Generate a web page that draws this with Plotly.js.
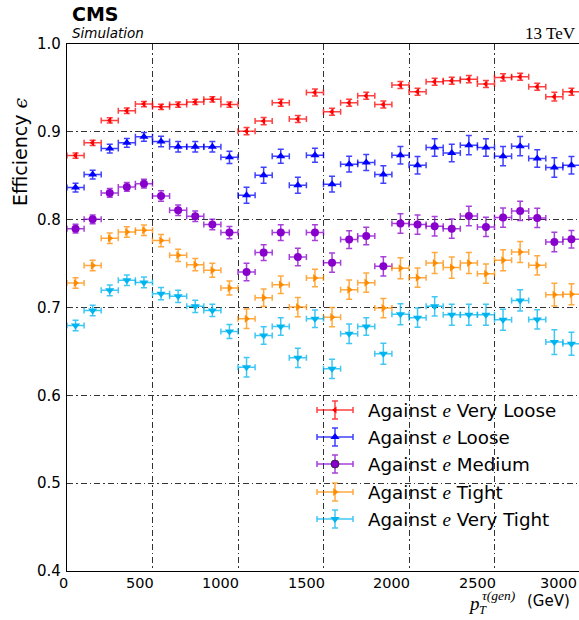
<!DOCTYPE html>
<html>
<head>
<meta charset="utf-8">
<script src="https://cdn.plot.ly/plotly-3.0.1.min.js"></script>
<style>
  html, body { margin: 0; padding: 0; overflow: hidden; background: #fff; }
  #chart { width: 582px; height: 620px; }
</style>
</head>
<body>
<div id="chart"></div>
<script>
// Generated-tau pT bins (GeV): centres and half-width
const binCenters = [50, 150, 250, 350, 450, 550, 650, 750, 850, 950,
  1050, 1150, 1250, 1350, 1450, 1550, 1650, 1750, 1850, 1950,
  2050, 2150, 2250, 2350, 2450, 2550, 2650, 2750, 2850, 2950];
const binHalfWidth = 50;

// Efficiency per working point of the anti-electron discriminator
const effVeryLoose = [0.873, 0.8875, 0.913, 0.924, 0.9316, 0.9285, 0.931, 0.934, 0.937, 0.931,
  0.9008, 0.9122, 0.9331, 0.9145, 0.9449, 0.9228, 0.933, 0.941, 0.931, 0.9532,
  0.9456, 0.957, 0.9582, 0.960, 0.9544, 0.962, 0.9627, 0.9513, 0.940, 0.9456];
const effLoose = [0.8366, 0.8514, 0.881, 0.8875, 0.8943, 0.889, 0.883, 0.883, 0.883, 0.871,
  0.8278, 0.8506, 0.8723, 0.8392, 0.8734, 0.8404, 0.8632, 0.8651, 0.8514, 0.8734,
  0.862, 0.8822, 0.876, 0.8848, 0.8822, 0.8723, 0.8837, 0.8696, 0.8594, 0.862];
const effMedium = [0.7898, 0.8004, 0.8305, 0.8373, 0.841, 0.827, 0.8107, 0.8039, 0.7944, 0.7853,
  0.7404, 0.7625, 0.7853, 0.7575, 0.7853, 0.751, 0.7773, 0.7814, 0.7469, 0.7956,
  0.7944, 0.7925, 0.7898, 0.8042, 0.7917, 0.8024, 0.81, 0.802, 0.7746, 0.7777];
const effTight = [0.7278, 0.7477, 0.7788, 0.786, 0.788, 0.7762, 0.7594, 0.7488, 0.7423, 0.7221,
  0.6872, 0.7111, 0.726, 0.7005, 0.7335, 0.689, 0.7203, 0.7283, 0.6993, 0.7446,
  0.734, 0.7506, 0.7454, 0.7506, 0.7385, 0.7537, 0.7632, 0.748, 0.7146, 0.715];
const effVeryTight = [0.6796, 0.6967, 0.7195, 0.731, 0.7286, 0.7157, 0.7127, 0.7013, 0.6967, 0.6727,
  0.632, 0.6682, 0.6784, 0.6427, 0.6872, 0.6302, 0.6701, 0.6784, 0.6473, 0.6924,
  0.6884, 0.7013, 0.6918, 0.6918, 0.6918, 0.686, 0.7081, 0.6864, 0.6606, 0.6587];

// Statistical uncertainties
const errVeryLoose = [0.003, 0.003, 0.003, 0.003, 0.003, 0.003, 0.003, 0.003, 0.003, 0.003,
  0.004, 0.004, 0.004, 0.004, 0.004, 0.004, 0.004, 0.004, 0.004, 0.004,
  0.004, 0.004, 0.004, 0.004, 0.004, 0.004, 0.004, 0.004, 0.005, 0.004];
const errLoose = [0.005, 0.005, 0.005, 0.005, 0.005, 0.006, 0.006, 0.006, 0.006, 0.007,
  0.009, 0.009, 0.008, 0.009, 0.008, 0.009, 0.009, 0.009, 0.010, 0.010,
  0.010, 0.010, 0.010, 0.011, 0.010, 0.011, 0.011, 0.010, 0.011, 0.010];
const errMedium = [0.005, 0.005, 0.005, 0.005, 0.005, 0.006, 0.006, 0.006, 0.006, 0.007,
  0.010, 0.009, 0.009, 0.010, 0.009, 0.011, 0.010, 0.010, 0.011, 0.011,
  0.011, 0.011, 0.011, 0.011, 0.011, 0.011, 0.011, 0.011, 0.011, 0.010];
const errTight = [0.006, 0.006, 0.006, 0.006, 0.006, 0.007, 0.007, 0.007, 0.008, 0.008,
  0.011, 0.010, 0.010, 0.011, 0.010, 0.011, 0.011, 0.011, 0.011, 0.012,
  0.011, 0.012, 0.012, 0.012, 0.011, 0.012, 0.012, 0.011, 0.013, 0.012];
const errVeryTight = [0.006, 0.006, 0.006, 0.006, 0.006, 0.007, 0.007, 0.007, 0.007, 0.008,
  0.011, 0.010, 0.010, 0.011, 0.010, 0.011, 0.011, 0.010, 0.012, 0.012,
  0.011, 0.011, 0.012, 0.012, 0.012, 0.012, 0.012, 0.011, 0.014, 0.013];

const seriesNames = ["Very Loose", "Loose", "Medium", "Tight", "Very Tight"];
const xTickVals = [0, 500, 1000, 1500, 2000, 2500, 3000];
const xTickText = ["0", "500", "1000", "1500", "2000", "2500", "3000"];
const yTickVals = [0.4, 0.5, 0.6, 0.7, 0.8, 0.9, 1.0];

// Styling
const styles = [
  {color: "#ff0000", err: "rgba(255,0,0,0.75)", symbol: "triangle-left", size: 6},
  {color: "#0000ff", err: "rgba(0,0,255,0.75)", symbol: "triangle-up", size: 8},
  {color: "#8800cc", err: "rgba(136,0,204,0.75)", symbol: "circle", size: 8},
  {color: "#ff8c00", err: "rgba(255,140,0,0.75)", symbol: "triangle-right", size: 7},
  {color: "#00b4f0", err: "rgba(0,180,240,0.75)", symbol: "triangle-down", size: 8}
];
const effs = [effVeryLoose, effLoose, effMedium, effTight, effVeryTight];
const errs = [errVeryLoose, errLoose, errMedium, errTight, errVeryTight];

// Plot-area pixel geometry (used for the hand-built legend and text)
const W = 582, H = 620;
const M = {l: 67, r: 2, t: 44, b: 49};
const plotL = M.l, plotR = W - M.r, plotT = M.t, plotB = H - M.b;
const pxX = px => (px - plotL) / (plotR - plotL);
const pxY = py => (plotB - py) / (plotB - plotT);

const traces = [];
effs.forEach((vals, i) => {
  const s = styles[i];
  traces.push({
    type: "scatter", mode: "markers",
    x: binCenters, y: vals,
    marker: {symbol: s.symbol, size: s.size, color: s.color, line: {width: 0}},
    error_y: {type: "data", array: errs[i], visible: true, color: s.err, thickness: 1.5, width: 3},
    error_x: {type: "constant", value: binHalfWidth, visible: true, color: s.err, thickness: 1.5, width: 3},
    showlegend: false, hoverinfo: "skip", cliponaxis: false
  });
});

// Legend: error-bar glyphs on a pixel-space overlay axis
const legendRowY = [410, 437, 464, 492, 519];
const legendGlyphX = 335;
styles.forEach((s, i) => {
  traces.push({
    type: "scatter", mode: "markers", xaxis: "x2", yaxis: "y2",
    x: [legendGlyphX], y: [legendRowY[i]],
    marker: {symbol: s.symbol, size: s.size, color: s.color,
             line: {width: i === 2 ? 0.8 : 0, color: "#222"}},
    error_x: {type: "constant", value: 18, color: s.err, thickness: 1.5, width: 3},
    error_y: {type: "constant", value: 9, color: s.err, thickness: 1.5, width: 3},
    showlegend: false, hoverinfo: "skip"
  });
});

const eSpan = '<span style="font-family:\'Liberation Serif\';font-style:italic;font-size:19px;">e</span>';
const annotations = [];
seriesNames.forEach((n, i) => {
  annotations.push({
    xref: "paper", yref: "paper", x: pxX(367), y: pxY(legendRowY[i]),
    xanchor: "left", yanchor: "middle", showarrow: false, borderpad: 0,
    text: "Against " + eSpan + " " + n,
    font: {family: "DejaVu Sans", size: 18.3, color: "#000"}
  });
});

// x tick labels, right-aligned on their ticks (last one kept inside the page)
xTickVals.forEach((v, i) => {
  annotations.push({
    xref: "x", yref: "paper", x: v, y: 0, yshift: -3,
    xanchor: "right", yanchor: "top", xshift: i === xTickVals.length - 1 ? -2 : 2,
    showarrow: false, borderpad: 0,
    text: xTickText[i], font: {family: "DejaVu Sans", size: 14.5, color: "#000"}
  });
});

// Header texts
annotations.push(
  {xref: "paper", yref: "paper", x: pxX(70), y: pxY(13.5), xanchor: "left", yanchor: "middle",
   showarrow: false, text: "<b>CMS</b>", font: {family: "DejaVu Sans", size: 19, color: "#000"}},
  {xref: "paper", yref: "paper", x: pxX(70), y: pxY(33), xanchor: "left", yanchor: "middle",
   showarrow: false, text: "<i>Simulation</i>", font: {family: "DejaVu Sans", size: 13.5, color: "#000"}},
  {xref: "paper", yref: "paper", x: pxX(578), y: pxY(33), xanchor: "right", yanchor: "middle",
   showarrow: false, text: "13 TeV", font: {family: "Liberation Serif", size: 17, color: "#000"}},
  // y-axis title, placed toward the top of the axis
  {xref: "paper", yref: "paper", x: pxX(20), y: pxY(152), xanchor: "center", yanchor: "middle",
   textangle: -90, showarrow: false,
   text: 'Efficiency <span style="font-family:\'DejaVu Serif\';font-style:italic;">ϵ</span>',
   font: {family: "DejaVu Sans", size: 19, color: "#000"}},
  // x-axis title pieces: p_T^{τ(gen)} (GeV)
  {xref: "paper", yref: "paper", x: pxX(467), y: pxY(603), xanchor: "left", yanchor: "middle",
   showarrow: false, borderpad: 0, text: "<i>p</i>", font: {family: "Liberation Serif", size: 19, color: "#000"}},
  {xref: "paper", yref: "paper", x: pxX(478), y: pxY(609.5), xanchor: "left", yanchor: "middle",
   showarrow: false, borderpad: 0, text: "<i>T</i>", font: {family: "Liberation Serif", size: 12.5, color: "#000"}},
  {xref: "paper", yref: "paper", x: pxX(481), y: pxY(595.5), xanchor: "left", yanchor: "middle",
   showarrow: false, borderpad: 0, text: "<i>τ(gen)</i>", font: {family: "Liberation Serif", size: 13.5, color: "#000"}},
  {xref: "paper", yref: "paper", x: pxX(526), y: pxY(601), xanchor: "left", yanchor: "middle",
   showarrow: false, borderpad: 0, text: "(GeV)", font: {family: "DejaVu Sans", size: 15, color: "#000"}}
);

const grid = {gridcolor: "#333", gridwidth: 1, griddash: "6px,3px,1.5px,3px"};

const layout = {
  width: W, height: H,
  margin: M,
  paper_bgcolor: "#fff", plot_bgcolor: "#fff",
  showlegend: false,
  xaxis: Object.assign({
    range: [0, 3000], tickmode: "array", tickvals: xTickVals, showticklabels: false,
    showgrid: true, zeroline: false, showline: true, linecolor: "#000", linewidth: 1.2,
    mirror: true, ticks: ""
  }, grid),
  yaxis: Object.assign({
    range: [0.4, 1.0], tickmode: "array", tickvals: yTickVals, tickformat: ".1f",
    showgrid: true, zeroline: false, showline: true, linecolor: "#000", linewidth: 1.2,
    mirror: true, ticks: "", ticklabelstandoff: 2,
    tickfont: {family: "DejaVu Sans", size: 15, color: "#000"}
  }, grid),
  xaxis2: {overlaying: "x", range: [plotL, plotR], visible: false},
  yaxis2: {overlaying: "y", range: [plotB, plotT], visible: false},
  annotations: annotations
};

Plotly.newPlot("chart", traces, layout, {staticPlot: true, displayModeBar: false});
</script>
</body>
</html>
